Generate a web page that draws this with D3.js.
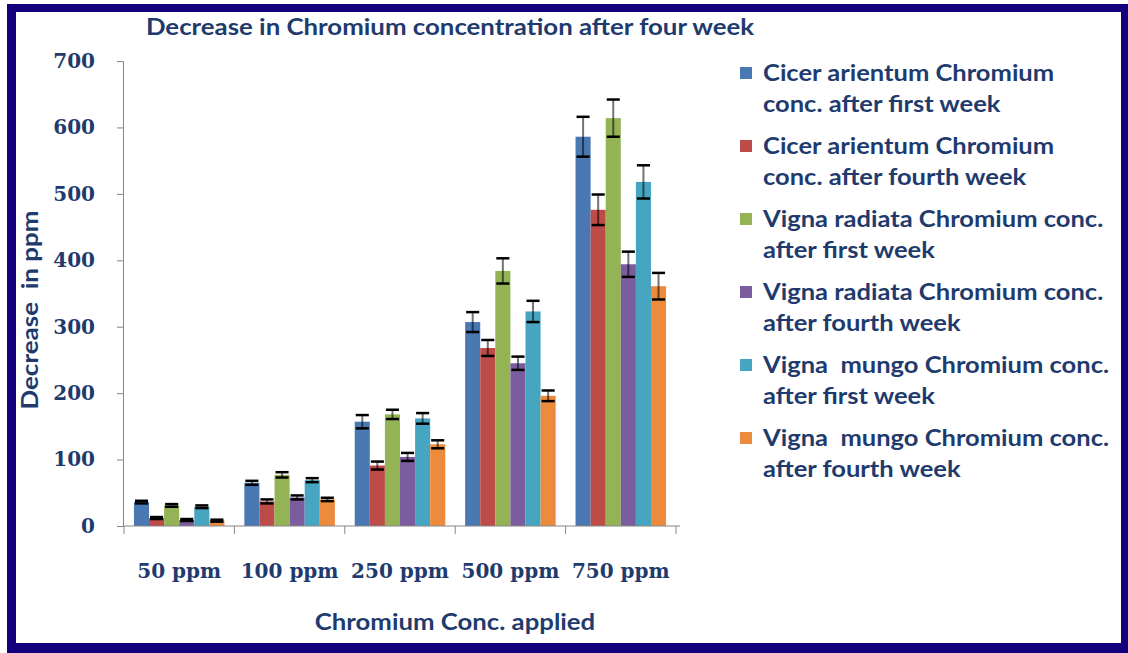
<!DOCTYPE html>
<html>
<head>
<meta charset="utf-8">
<script src="https://cdn.jsdelivr.net/npm/d3@7"></script>
<style>
  body { margin: 0; background: #fff; }
  svg text { font-family: Lato, "Open Sans", sans-serif; font-weight: bold; fill: #1f3b6e; white-space: pre; }
  svg text.serif, svg .tick text { font-family: "DejaVu Serif", "Liberation Serif", serif; }
</style>
</head>
<body>
<svg id="chart" width="1128" height="653"></svg>
<script>
// chart data
var categories = ["50 ppm", "100 ppm", "250 ppm", "500 ppm", "750 ppm"];
var seriesNames = [
  ["Cicer arientum Chromium", "conc. after first week"],
  ["Cicer arientum Chromium", "conc. after fourth week"],
  ["Vigna radiata Chromium conc.", "after first week"],
  ["Vigna radiata Chromium conc.", "after fourth week"],
  ["Vigna  mungo Chromium conc.", "after first week"],
  ["Vigna  mungo Chromium conc.", "after fourth week"]
];
var cicerFirst   = [36, 65, 157, 307, 586];
var cicerFourth  = [12, 37, 91, 268, 476];
var radiataFirst = [31, 77, 168, 384, 614];
var radiataFourth = [9, 43, 104, 245, 394];
var mungoFirst   = [29, 69, 162, 323, 518];
var mungoFourth  = [8, 40, 123, 196, 361];
var errCicerFirst   = [2, 3, 10, 15, 30];
var errCicerFourth  = [1.5, 3, 6, 12, 23];
var errRadiataFirst = [2, 4, 7, 19, 28];
var errRadiataFourth = [1.5, 3, 6, 10, 19];
var errMungoFirst   = [2, 3, 8, 16, 25];
var errMungoFourth  = [1.5, 2.5, 6, 8, 20];
var yTicks = [0, 100, 200, 300, 400, 500, 600, 700];
var colors = ["#4a78b2", "#bd4b48", "#93b355", "#7b5c9e", "#46a5c0", "#ec8b3c"];

var values = [cicerFirst, cicerFourth, radiataFirst, radiataFourth, mungoFirst, mungoFourth];
var errors = [errCicerFirst, errCicerFourth, errRadiataFirst, errRadiataFourth, errMungoFirst, errMungoFourth];

var svg = d3.select("#chart");

// frame
svg.append("rect").attr("x", 7).attr("y", 4).attr("width", 1121).attr("height", 649).attr("fill", "#14007c");
svg.append("rect").attr("x", 16).attr("y", 12).attr("width", 1105).attr("height", 631).attr("fill", "#fff");

var x = d3.scaleBand().domain(categories).range([124, 676]);
var x1 = d3.scaleBand().domain(d3.range(6)).range([x.bandwidth() * 0.09, x.bandwidth() * 0.91]);
var y = d3.scaleLinear().domain([0, 700]).range([526, 61]);

// bars
values.forEach(function(s, i) {
  svg.append("g").attr("fill", colors[i])
    .selectAll("rect").data(s).enter().append("rect")
    .attr("x", function(d, j) { return x(categories[j]) + x1(i); })
    .attr("y", function(d) { return y(d); })
    .attr("width", x1.bandwidth())
    .attr("height", function(d) { return y(0) - y(d); });
});

// error bars
values.forEach(function(s, i) {
  s.forEach(function(v, j) {
    var cx = x(categories[j]) + x1(i) + x1.bandwidth() / 2,
        e = errors[i][j],
        hw = x1.bandwidth() / 2 - 1;
    var g = svg.append("g").attr("stroke", "#000");
    g.append("line").attr("x1", cx).attr("x2", cx).attr("y1", y(v + e)).attr("y2", y(v - e))
      .attr("stroke-width", 2).attr("stroke-opacity", 0.55);
    [v + e, v - e].forEach(function(t) {
      g.append("line").attr("x1", cx - hw).attr("x2", cx + hw).attr("y1", y(t)).attr("y2", y(t))
        .attr("stroke-width", 2.5);
    });
  });
});

// y axis
var yAxis = svg.append("g").attr("transform", "translate(123,0)")
  .call(d3.axisLeft(y).tickValues(yTicks).tickSize(6).tickPadding(22));
yAxis.select(".domain").attr("stroke", "#868686");
yAxis.selectAll(".tick line").attr("stroke", "#868686");
yAxis.selectAll(".tick text").style("font-size", "20px").attr("fill", "#2a4270");

// x axis
var xEdges = categories.map(function(c) { return x(c); }).concat([x.range()[1]]);
svg.append("line").attr("x1", 123).attr("x2", 680).attr("y1", 526).attr("y2", 526).attr("stroke", "#868686");
svg.selectAll("line.xtick").data(xEdges).enter().append("line")
  .attr("class", "xtick")
  .attr("x1", function(d) { return d; }).attr("x2", function(d) { return d; })
  .attr("y1", 526).attr("y2", 534).attr("stroke", "#868686");
svg.selectAll("text.xlab").data(categories).enter().append("text")
  .attr("class", "xlab serif")
  .attr("x", function(d) { return x(d) + x.bandwidth() / 2; })
  .attr("y", 578)
  .attr("text-anchor", "middle")
  .style("font-size", "20px")
  .text(function(d) { return d; });

// titles (source text is horizontally stretched, so scale along the baseline)
svg.append("text").attr("transform", "translate(450,35) scale(1.09,1)").attr("text-anchor", "middle")
  .style("font-size", "23.7px").text("Decrease in Chromium concentration after four week");
svg.append("text").attr("transform", "translate(455,630) scale(1.17,1)").attr("text-anchor", "middle")
  .style("font-size", "22px").text("Chromium Conc. applied");
svg.append("text").attr("transform", "translate(38,310) rotate(-90) scale(1.3,1.1)").attr("text-anchor", "middle")
  .style("font-size", "20px").text("Decrease  in ppm");

// legend
var legend = svg.selectAll("g.legend").data(seriesNames).enter().append("g")
  .attr("class", "legend")
  .attr("transform", function(d, i) { return "translate(740," + (73 + i * 73) + ")"; });
legend.append("rect").attr("x", 0).attr("y", -6).attr("width", 12).attr("height", 12)
  .attr("fill", function(d, i) { return colors[i]; });
legend.append("text").attr("transform", "translate(23,8) scale(1.11,1)").style("font-size", "23px")
  .text(function(d) { return d[0]; });
legend.append("text").attr("transform", "translate(23,39) scale(1.11,1)").style("font-size", "23px")
  .text(function(d) { return d[1]; });
</script>
</body>
</html>
